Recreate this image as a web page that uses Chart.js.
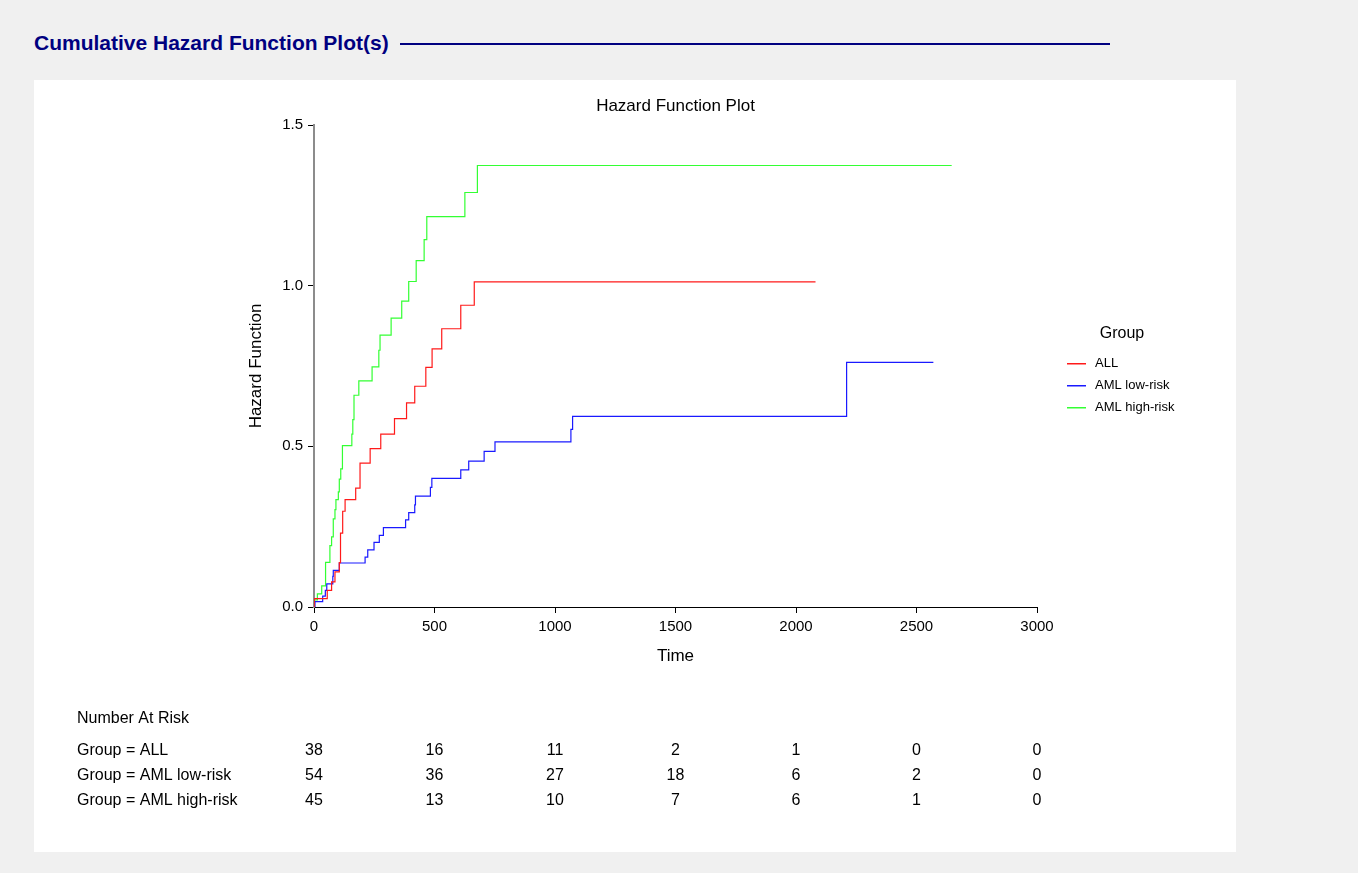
<!DOCTYPE html>
<html>
<head>
<meta charset="utf-8">
<title>Cumulative Hazard Function Plot(s)</title>
<script src="https://cdn.jsdelivr.net/npm/chart.js@4.4.1/dist/chart.umd.min.js"></script>
<style>
  body { margin: 0; background: #f0f0f0; font-family: "Liberation Sans", Arial, sans-serif; }
  #head { position: absolute; left: 34px; top: 31px; font-size: 21px; font-weight: bold; color: #000080; white-space: nowrap; }
  #rule { position: absolute; left: 400px; top: 43px; width: 710px; height: 2px; background: #000080; }
  #panel { position: absolute; left: 34px; top: 80px; width: 1202px; height: 772px; background: #fff; }
</style>
</head>
<body>
<div id="head">Cumulative Hazard Function Plot(s)</div>
<div id="rule"></div>
<div id="panel"><canvas id="hazardChart" width="1202" height="772"></canvas></div>
<script>
// Group names and colours
const groupNames = ['ALL', 'AML low-risk', 'AML high-risk'];
const groupColors = ['#ff1a1a', '#1a1aff', '#33ff33'];

// Cumulative hazard steps (time, value)
const allTimes = [0, 1, 55, 73, 87, 105, 110, 119, 129, 173, 191, 233, 277, 334, 384, 418, 464, 490, 530, 609, 665, 2081];
const allHazard = [0, 0.026, 0.052, 0.078, 0.109, 0.138, 0.230, 0.298, 0.334, 0.370, 0.448, 0.493, 0.538, 0.586, 0.635, 0.687, 0.746, 0.803, 0.866, 0.939, 1.012, 1.012];

const lowTimes = [0, 4, 36, 47, 53, 78, 80, 105, 212, 223, 249, 271, 288, 380, 393, 418, 421, 483, 489, 609, 642, 706, 751, 1066, 1073, 2210, 2570];
const lowHazard = [0, 0.017, 0.034, 0.052, 0.072, 0.095, 0.114, 0.137, 0.155, 0.178, 0.201, 0.223, 0.247, 0.271, 0.294, 0.318, 0.345, 0.372, 0.400, 0.427, 0.454, 0.484, 0.514, 0.553, 0.593, 0.761, 0.761];

const highTimes = [0, 2, 14, 32, 48, 66, 73, 80, 87, 91, 101, 105, 111, 118, 157, 161, 166, 186, 241, 269, 274, 320, 364, 393, 424, 457, 468, 626, 678, 2646];
const highHazard = [0, 0.022, 0.041, 0.066, 0.139, 0.191, 0.218, 0.274, 0.303, 0.334, 0.358, 0.398, 0.430, 0.502, 0.538, 0.583, 0.659, 0.704, 0.747, 0.799, 0.846, 0.899, 0.952, 1.013, 1.078, 1.143, 1.215, 1.290, 1.374, 1.374];

// Number at risk table
const atRiskTimes = [0, 500, 1000, 1500, 2000, 2500, 3000];
const atRiskAll = [38, 16, 11, 2, 1, 0, 0];
const atRiskLow = [54, 36, 27, 18, 6, 2, 0];
const atRiskHigh = [45, 13, 10, 7, 6, 1, 0];

const FONT = '"Liberation Sans", Arial, sans-serif';

function toPoints(times, values) {
  return times.map((t, i) => ({ x: t, y: values[i] }));
}

// draws the plot title, legend box and the number-at-risk rows
const extrasPlugin = {
  id: 'extras',
  afterDraw(chart) {
    const ctx = chart.ctx;
    const xs = chart.scales.x;
    const area = chart.chartArea;
    ctx.save();
    ctx.fillStyle = '#000';
    ctx.textBaseline = 'middle';

    // title, centred over the plot area
    ctx.font = '17px ' + FONT;
    ctx.textAlign = 'center';
    ctx.fillText('Hazard Function Plot', (area.left + area.right) / 2, 26);

    // legend
    ctx.font = '16px ' + FONT;
    ctx.fillText('Group', 1088, 254);
    ctx.font = '13px ' + FONT;
    ctx.textAlign = 'left';
    groupNames.forEach((name, i) => {
      const y = 283.5 + i * 22;
      ctx.fillStyle = groupColors[i];
      ctx.fillRect(1033, Math.round(y) - 1, 19, 1.5);
      ctx.fillStyle = '#000';
      ctx.fillText(name, 1061, y);
    });

    // number at risk
    ctx.font = '16px ' + FONT;
    ctx.fillText('Number At Risk', 43, 638.5);
    const rows = [atRiskAll, atRiskLow, atRiskHigh];
    rows.forEach((row, r) => {
      const y = 670.5 + r * 25;
      ctx.textAlign = 'left';
      ctx.fillText('Group = ' + groupNames[r], 43, y);
      ctx.textAlign = 'center';
      row.forEach((n, i) => {
        ctx.fillText(String(n), xs.getPixelForValue(atRiskTimes[i]), y);
      });
    });
    ctx.restore();
  }
};

const ctx = document.getElementById('hazardChart').getContext('2d');
new Chart(ctx, {
  type: 'line',
  data: {
    datasets: [
      { label: groupNames[0], data: toPoints(allTimes, allHazard), borderColor: groupColors[0] },
      { label: groupNames[1], data: toPoints(lowTimes, lowHazard), borderColor: groupColors[1] },
      { label: groupNames[2], data: toPoints(highTimes, highHazard), borderColor: groupColors[2] },
    ].map(d => Object.assign(d, { stepped: true, borderWidth: 1.2, pointRadius: 0, fill: false })),
  },
  options: {
    responsive: false,
    animation: false,
    layout: {
      padding: { left: 212, right: 199, top: 45, bottom: 185 }
    },
    plugins: {
      legend: { display: false },
      tooltip: { enabled: false },
    },
    scales: {
      x: {
        type: 'linear',
        min: 0,
        max: 3000,
        afterFit: (scale) => { scale.height = 60; },
        ticks: {
          stepSize: 500,
          color: '#000',
          padding: 5,
          maxRotation: 0,
          font: { family: FONT, size: 15 },
          callback: (v) => String(v),
        },
        grid: { drawOnChartArea: false, color: '#000', tickLength: 6 },
        border: { color: '#000', width: 1 },
        title: { display: true, text: 'Time', color: '#000', padding: 0, font: { family: FONT, size: 17 } },
      },
      y: {
        min: 0,
        max: 1.5,
        afterFit: (scale) => { scale.width = 68; },
        ticks: {
          stepSize: 0.5,
          color: '#000',
          padding: 5,
          font: { family: FONT, size: 15 },
          callback: (v) => Number(v).toFixed(1),
        },
        grid: { drawOnChartArea: false, color: '#000', tickLength: 6 },
        border: { color: '#8c8c8c', width: 2 },
        title: { display: true, text: 'Hazard Function', color: '#000', padding: 0, font: { family: FONT, size: 17 } },
      },
    },
  },
  plugins: [extrasPlugin],
});
</script>
</body>
</html>
